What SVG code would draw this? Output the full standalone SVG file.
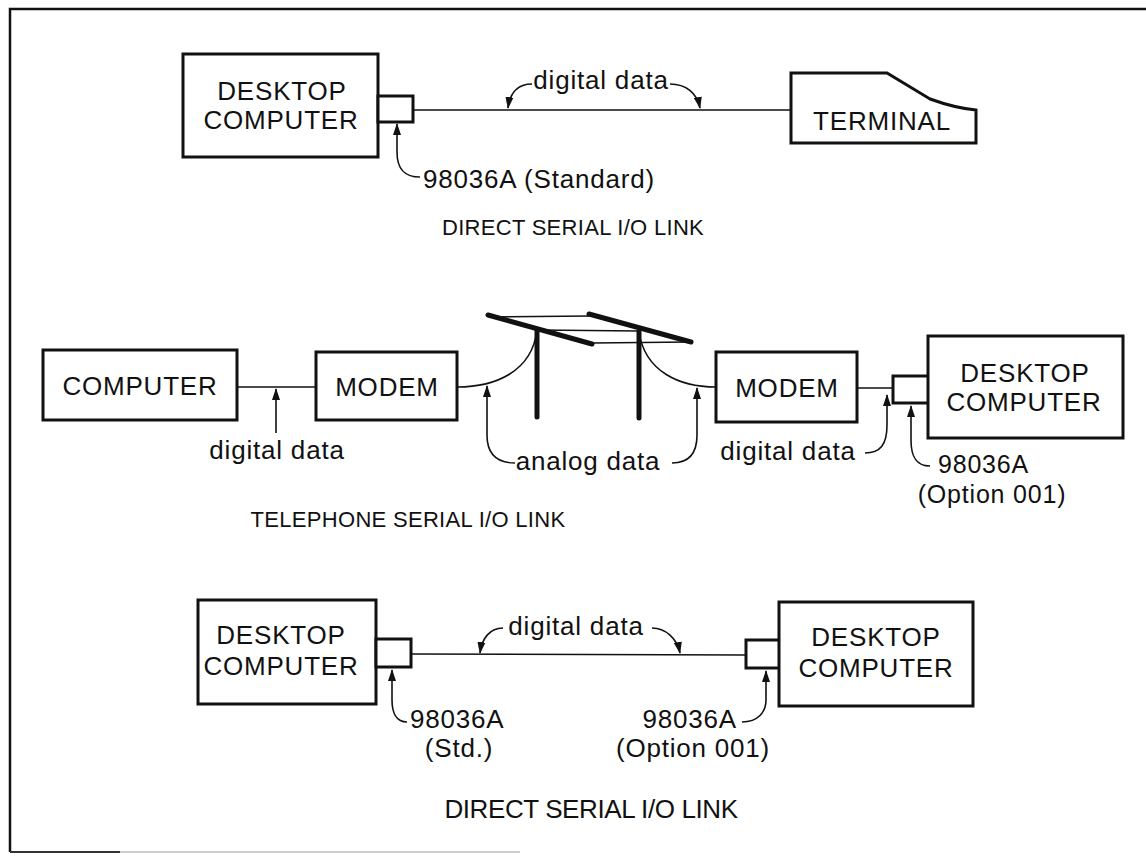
<svg xmlns="http://www.w3.org/2000/svg" width="1146" height="857" viewBox="0 0 1146 857">
  <style>
    .box { fill: #fff; stroke: #111; stroke-width: 3; }
    .port { fill: #fff; stroke: #111; stroke-width: 3; }
    .wire { fill: none; stroke: #111; stroke-width: 1.6; }
    .ptr { fill: none; stroke: #111; stroke-width: 1.6; marker-end: url(#tip); }
    .pole { fill: none; stroke: #111; stroke-width: 5; stroke-linecap: round; }
    .lbl { font-family: "Liberation Sans", Arial, sans-serif; font-size: 26px; letter-spacing: 0.8px; fill: #111; text-anchor: middle; }
    .note { font-family: "Liberation Sans", Arial, sans-serif; font-size: 26px; letter-spacing: 0.8px; fill: #111; }
    .title { font-family: "Liberation Sans", Arial, sans-serif; font-size: 22px; letter-spacing: 0.3px; fill: #111; text-anchor: middle; }
  </style>
  <defs>
    <marker id="tip" viewBox="0 0 12 8" refX="11" refY="4" markerWidth="12" markerHeight="8" markerUnits="userSpaceOnUse" orient="auto">
      <path d="M0,0 L12,4 L0,8 Z" fill="#111"/>
    </marker>
  </defs>
  <rect width="1146" height="857" fill="#fff"/>

  <!-- page frame -->
  <g id="frame" fill="none">
    <path d="M10,852 L10,9 L1146,9" stroke="#111" stroke-width="2.5"/>
    <path d="M10,852 L120,852" stroke="#333" stroke-width="2"/>
    <path d="M120,852 L520,852" stroke="#bbb" stroke-width="1.5"/>
  </g>

  <!-- connectors -->
  <g id="connectors">
    <!-- direct link 1 -->
    <path class="wire" d="M413,110 L791,110"/>
    <path class="ptr" d="M532,84 C518,84 510,93 508,108"/>
    <path class="ptr" d="M670,84 C686,84 697,93 700,108"/>
    <path class="ptr" d="M420,177 C405,177 397,170 397,152 L397,124"/>

    <!-- telephone link -->
    <path class="wire" d="M237,387 L316,387"/>
    <path class="ptr" d="M276,433 L276,389"/>
    <path class="wire" d="M457,387 C495,387 532,372 537,330"/>
    <path class="wire" d="M639,332 C645,372 680,387 716,387"/>
    <path class="wire" d="M490,317 L590,316"/>
    <path class="wire" d="M537,330 L639,331"/>
    <path class="wire" d="M592,343 L691,342"/>
    <path class="wire" d="M857,388 L893,388"/>
    <path class="ptr" d="M515,463 C495,463 487,452 487,435 L487,386"/>
    <path class="ptr" d="M672,463 C690,463 697,452 697,435 L697,388"/>
    <path class="ptr" d="M865,453 C880,453 887,445 887,425 L887,395"/>
    <path class="ptr" d="M930,466 C915,466 911,455 911,440 L911,406"/>

    <!-- direct link 2 -->
    <path class="wire" d="M411,654 L746,655"/>
    <path class="ptr" d="M503,628 C490,628 482,638 480,653"/>
    <path class="ptr" d="M652,628 C665,628 677,638 680,653"/>
    <path class="ptr" d="M407,722 C396,722 392,712 392,700 L392,670"/>
    <path class="ptr" d="M742,722 C758,722 766,712 766,700 L766,671"/>
  </g>

  <!-- telephone poles -->
  <g id="poles">
    <path class="pole" d="M537,330 L537,417"/>
    <path class="pole" d="M639,332 L639,418"/>
    <path class="pole" d="M488,315 L592,344"/>
    <path class="pole" d="M589,314 L691,342"/>
  </g>

  <!-- direct link 1 nodes -->
  <g id="desktop1">
    <rect class="box" x="183" y="54" width="195" height="103"/>
    <text class="lbl" x="282" y="100">DESKTOP</text>
    <text class="lbl" x="281" y="129">COMPUTER</text>
  </g>
  <g id="port1">
    <rect class="port" x="378" y="96" width="35" height="26"/>
  </g>
  <g id="terminal">
    <path class="box" d="M791,73 L887,73 L930,99 Q955,108 976,110 L976,143 L791,143 Z"/>
    <text class="lbl" x="882" y="130">TERMINAL</text>
  </g>
  <g id="labels1">
    <text class="lbl" x="601" y="89">digital data</text>
    <text class="note" x="423" y="188">98036A (Standard)</text>
    <text class="title" x="573" y="235">DIRECT SERIAL I/O LINK</text>
  </g>

  <!-- telephone link nodes -->
  <g id="computer">
    <rect class="box" x="43" y="350" width="194" height="70"/>
    <text class="lbl" x="140" y="395">COMPUTER</text>
  </g>
  <g id="modem1">
    <rect class="box" x="316" y="352" width="141" height="68"/>
    <text class="lbl" x="387" y="396">MODEM</text>
  </g>
  <g id="modem2">
    <rect class="box" x="716" y="352" width="141" height="70"/>
    <text class="lbl" x="787" y="397">MODEM</text>
  </g>
  <g id="port2">
    <rect class="port" x="893" y="376" width="36" height="27"/>
  </g>
  <g id="desktop2">
    <rect class="box" x="928" y="336" width="195" height="102"/>
    <text class="lbl" x="1025" y="382">DESKTOP</text>
    <text class="lbl" x="1024" y="411">COMPUTER</text>
  </g>
  <g id="labels2">
    <text class="lbl" x="277" y="459">digital data</text>
    <text class="lbl" x="588" y="470">analog data</text>
    <text class="lbl" x="788" y="460">digital data</text>
    <text class="note" x="938" y="473" style="font-size:25px">98036A</text>
    <text class="lbl" x="992" y="503" style="font-size:25px">(Option 001)</text>
    <text class="title" x="408" y="527">TELEPHONE SERIAL I/O LINK</text>
  </g>

  <!-- direct link 2 nodes -->
  <g id="desktop3">
    <rect class="box" x="198" y="600" width="178" height="104"/>
    <text class="lbl" x="281" y="644">DESKTOP</text>
    <text class="lbl" x="281" y="675">COMPUTER</text>
  </g>
  <g id="port3">
    <rect class="port" x="376" y="639" width="35" height="28"/>
  </g>
  <g id="port4">
    <rect class="port" x="746" y="640" width="34" height="28"/>
  </g>
  <g id="desktop4">
    <rect class="box" x="779" y="602" width="194" height="104"/>
    <text class="lbl" x="876" y="646">DESKTOP</text>
    <text class="lbl" x="876" y="677">COMPUTER</text>
  </g>
  <g id="labels3">
    <text class="lbl" x="576" y="635">digital data</text>
    <text class="note" x="410" y="728">98036A</text>
    <text class="lbl" x="459" y="757">(Std.)</text>
    <text class="note" x="737" y="728" text-anchor="end">98036A</text>
    <text class="lbl" x="693" y="757">(Option 001)</text>
    <text class="title" x="591" y="818" style="font-size:26px;letter-spacing:-0.4px">DIRECT SERIAL I/O LINK</text>
  </g>
</svg>
